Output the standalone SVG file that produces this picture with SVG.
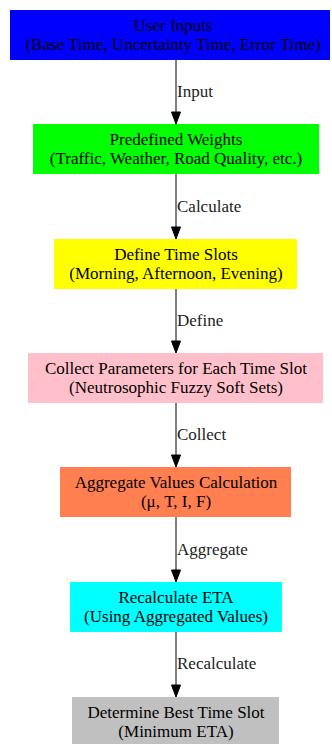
<svg xmlns="http://www.w3.org/2000/svg" width="332" height="744" viewBox="0 0 332 744">
  <style>
    .node text { font-family: "Liberation Serif", "Times New Roman", serif; font-size: 17px; fill: #000; text-anchor: middle; }
    .edge line { stroke: #808080; stroke-width: 2; }
    .edge polygon { fill: #000; stroke: #000; stroke-width: 1; }
    .edge text { font-family: "Liberation Serif", "Times New Roman", serif; font-size: 17px; fill: #222; }
  </style>
  <rect width="332" height="744" fill="#fff"/>

  <g id="connectors">
    <g class="edge">
      <line x1="176" y1="60" x2="176" y2="113"/>
      <polygon points="171.5,112 180.5,112 176,124"/>
      <text x="177" y="97">Input</text>
    </g>
    <g class="edge">
      <line x1="176" y1="174" x2="176" y2="228"/>
      <polygon points="171.5,227 180.5,227 176,239"/>
      <text x="177" y="212">Calculate</text>
    </g>
    <g class="edge">
      <line x1="176" y1="289" x2="176" y2="342"/>
      <polygon points="171.5,341 180.5,341 176,353"/>
      <text x="177" y="326">Define</text>
    </g>
    <g class="edge">
      <line x1="176" y1="403" x2="176" y2="456"/>
      <polygon points="171.5,455 180.5,455 176,467"/>
      <text x="177" y="440">Collect</text>
    </g>
    <g class="edge">
      <line x1="176" y1="517" x2="176" y2="571"/>
      <polygon points="171.5,570 180.5,570 176,582"/>
      <text x="177" y="555">Aggregate</text>
    </g>
    <g class="edge">
      <line x1="176" y1="632" x2="176" y2="686"/>
      <polygon points="171.5,685 180.5,685 176,697"/>
      <text x="177" y="669">Recalculate</text>
    </g>
  </g>

  <g id="user-inputs" class="node">
    <rect x="10" y="10" width="320" height="50" fill="#0000ff"/>
    <text x="173" y="30.5">User Inputs</text>
    <text x="173" y="49.5">(Base Time, Uncertainty Time, Error Time)</text>
  </g>
  <g id="predefined-weights" class="node">
    <rect x="33" y="124" width="286" height="50" fill="#00ff00"/>
    <text x="176" y="144.5">Predefined Weights</text>
    <text x="176" y="163.5">(Traffic, Weather, Road Quality, etc.)</text>
  </g>
  <g id="define-time-slots" class="node">
    <rect x="54" y="239" width="243" height="50" fill="#ffff00"/>
    <text x="176" y="259.5">Define Time Slots</text>
    <text x="176" y="278.5">(Morning, Afternoon, Evening)</text>
  </g>
  <g id="collect-parameters" class="node">
    <rect x="28" y="353" width="295" height="50" fill="#ffc0cb"/>
    <text x="176" y="373.5">Collect Parameters for Each Time Slot</text>
    <text x="176" y="392.5">(Neutrosophic Fuzzy Soft Sets)</text>
  </g>
  <g id="aggregate-values" class="node">
    <rect x="60" y="467" width="231" height="50" fill="#ff7f50"/>
    <text x="176" y="487.5">Aggregate Values Calculation</text>
    <text x="176" y="506.5">(μ, T, I, F)</text>
  </g>
  <g id="recalculate-eta" class="node">
    <rect x="70" y="582" width="212" height="50" fill="#00ffff"/>
    <text x="176" y="602.5">Recalculate ETA</text>
    <text x="176" y="621.5">(Using Aggregated Values)</text>
  </g>
  <g id="best-time-slot" class="node">
    <rect x="72" y="697" width="207" height="50" fill="#c0c0c0"/>
    <text x="176" y="717.5">Determine Best Time Slot</text>
    <text x="176" y="736.5">(Minimum ETA)</text>
  </g>
</svg>
